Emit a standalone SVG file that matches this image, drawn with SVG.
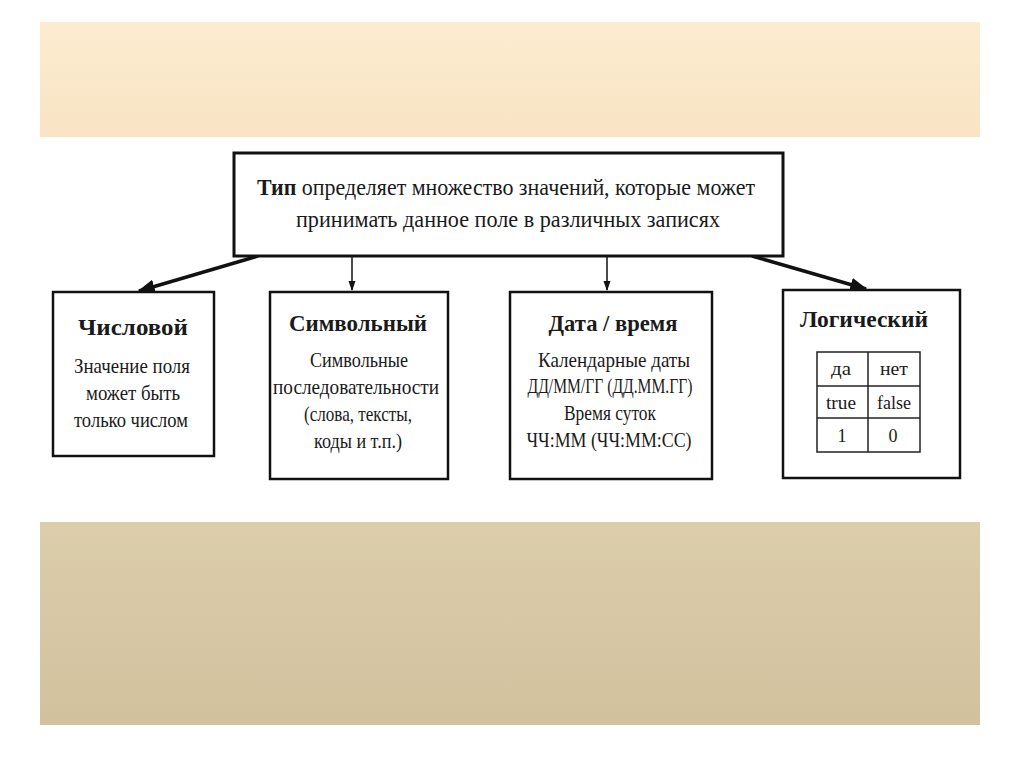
<svg xmlns="http://www.w3.org/2000/svg" width="1024" height="767" viewBox="0 0 1024 767">
<defs>
<linearGradient id="top" x1="0" y1="0" x2="0" y2="1"><stop offset="0" stop-color="#fdecd0"/><stop offset="1" stop-color="#f8e4c4"/></linearGradient>
<linearGradient id="bot" x1="0" y1="0" x2="0" y2="1"><stop offset="0" stop-color="#dccdab"/><stop offset="1" stop-color="#d2c19d"/></linearGradient>
<marker id="ah" viewBox="0 0 10 10" refX="9" refY="5" markerWidth="5" markerHeight="5" orient="auto" markerUnits="strokeWidth"><path d="M0,1 L10,5 L0,9 Z" fill="#111"/></marker>
<marker id="ahs" viewBox="0 0 10 10" refX="9" refY="5" markerWidth="7" markerHeight="7" orient="auto" markerUnits="strokeWidth"><path d="M0,1.5 L10,5 L0,8.5 Z" fill="#111"/></marker>
</defs>
<style>
.box{fill:#fff;stroke:#111;stroke-width:2.5}
.cell{fill:none;stroke:#222;stroke-width:1.5}
text{font-family:"Liberation Serif","DejaVu Serif",serif;fill:#1a1a1a;text-anchor:middle}
.t{font-size:24px}
.h{font-size:23px;font-weight:bold}
.b{font-size:21px}
.c{font-size:18px}
.conn{stroke:#111;fill:none}
</style>
<rect width="1024" height="767" fill="#fff"/>
<rect x="40" y="22" width="940" height="115" fill="url(#top)"/>
<rect x="40" y="522" width="940" height="203" fill="url(#bot)"/>

<g id="connectors">
<line class="conn" x1="258" y1="256" x2="139" y2="291" stroke-width="3.5" marker-end="url(#ah)"/>
<line class="conn" x1="352" y1="256" x2="352" y2="290" stroke-width="1.5" marker-end="url(#ahs)"/>
<line class="conn" x1="607" y1="256" x2="607" y2="290" stroke-width="1.5" marker-end="url(#ahs)"/>
<line class="conn" x1="752" y1="256" x2="866" y2="289" stroke-width="3.5" marker-end="url(#ah)"/>
</g>

<g id="root">
<rect class="box" x="234" y="153" width="549" height="103" style="stroke-width:3"/>
<text class="t" x="506" y="195" textLength="498" lengthAdjust="spacingAndGlyphs"><tspan font-weight="bold">Тип</tspan> определяет множество значений, которые может</text>
<text class="t" x="508" y="227" textLength="424" lengthAdjust="spacingAndGlyphs">принимать данное поле в различных записях</text>
</g>

<g id="numeric">
<rect class="box" x="53" y="292" width="161" height="164"/>
<text class="h" x="133" y="335" textLength="110" lengthAdjust="spacingAndGlyphs">Числовой</text>
<text class="b" x="132" y="373" textLength="116" lengthAdjust="spacingAndGlyphs">Значение поля</text>
<text class="b" x="133" y="400" textLength="94" lengthAdjust="spacingAndGlyphs">может быть</text>
<text class="b" x="131" y="427" textLength="114" lengthAdjust="spacingAndGlyphs">только числом</text>
</g>

<g id="symbolic">
<rect class="box" x="270" y="292" width="178" height="187"/>
<text class="h" x="358" y="331" textLength="138" lengthAdjust="spacingAndGlyphs">Символьный</text>
<text class="b" x="359" y="367" textLength="98" lengthAdjust="spacingAndGlyphs">Символьные</text>
<text class="b" x="356" y="394" textLength="166" lengthAdjust="spacingAndGlyphs">последовательности</text>
<text class="b" x="358" y="421" textLength="108" lengthAdjust="spacingAndGlyphs">(слова, тексты,</text>
<text class="b" x="358" y="448" textLength="88" lengthAdjust="spacingAndGlyphs">коды и т.п.)</text>
</g>

<g id="datetime">
<rect class="box" x="510" y="292" width="202" height="187"/>
<text class="h" x="613" y="331" textLength="129" lengthAdjust="spacingAndGlyphs">Дата / время</text>
<text class="b" x="614" y="367" textLength="152" lengthAdjust="spacingAndGlyphs">Календарные даты</text>
<text class="b" x="610" y="393" textLength="165" lengthAdjust="spacingAndGlyphs">ДД/ММ/ГГ (ДД.ММ.ГГ)</text>
<text class="b" x="610" y="420" textLength="92" lengthAdjust="spacingAndGlyphs">Время суток</text>
<text class="b" x="609" y="447" textLength="165" lengthAdjust="spacingAndGlyphs">ЧЧ:ММ (ЧЧ:ММ:СС)</text>
</g>

<g id="logical">
<rect class="box" x="783" y="290" width="177" height="188"/>
<text class="h" x="864" y="327" textLength="128" lengthAdjust="spacingAndGlyphs">Логический</text>
<rect class="cell" x="817" y="352" width="103" height="100"/>
<line class="cell" x1="817" y1="386" x2="920" y2="386"/>
<line class="cell" x1="817" y1="418" x2="920" y2="418"/>
<line class="cell" x1="868" y1="352" x2="868" y2="452"/>
<text class="c" x="841" y="375" textLength="20" lengthAdjust="spacingAndGlyphs">да</text>
<text class="c" x="894" y="375" textLength="28" lengthAdjust="spacingAndGlyphs">нет</text>
<text class="c" x="841" y="409" textLength="30" lengthAdjust="spacingAndGlyphs">true</text>
<text class="c" x="894" y="409" textLength="34" lengthAdjust="spacingAndGlyphs">false</text>
<text class="c" x="842" y="442">1</text>
<text class="c" x="893" y="442">0</text>
</g>
</svg>
